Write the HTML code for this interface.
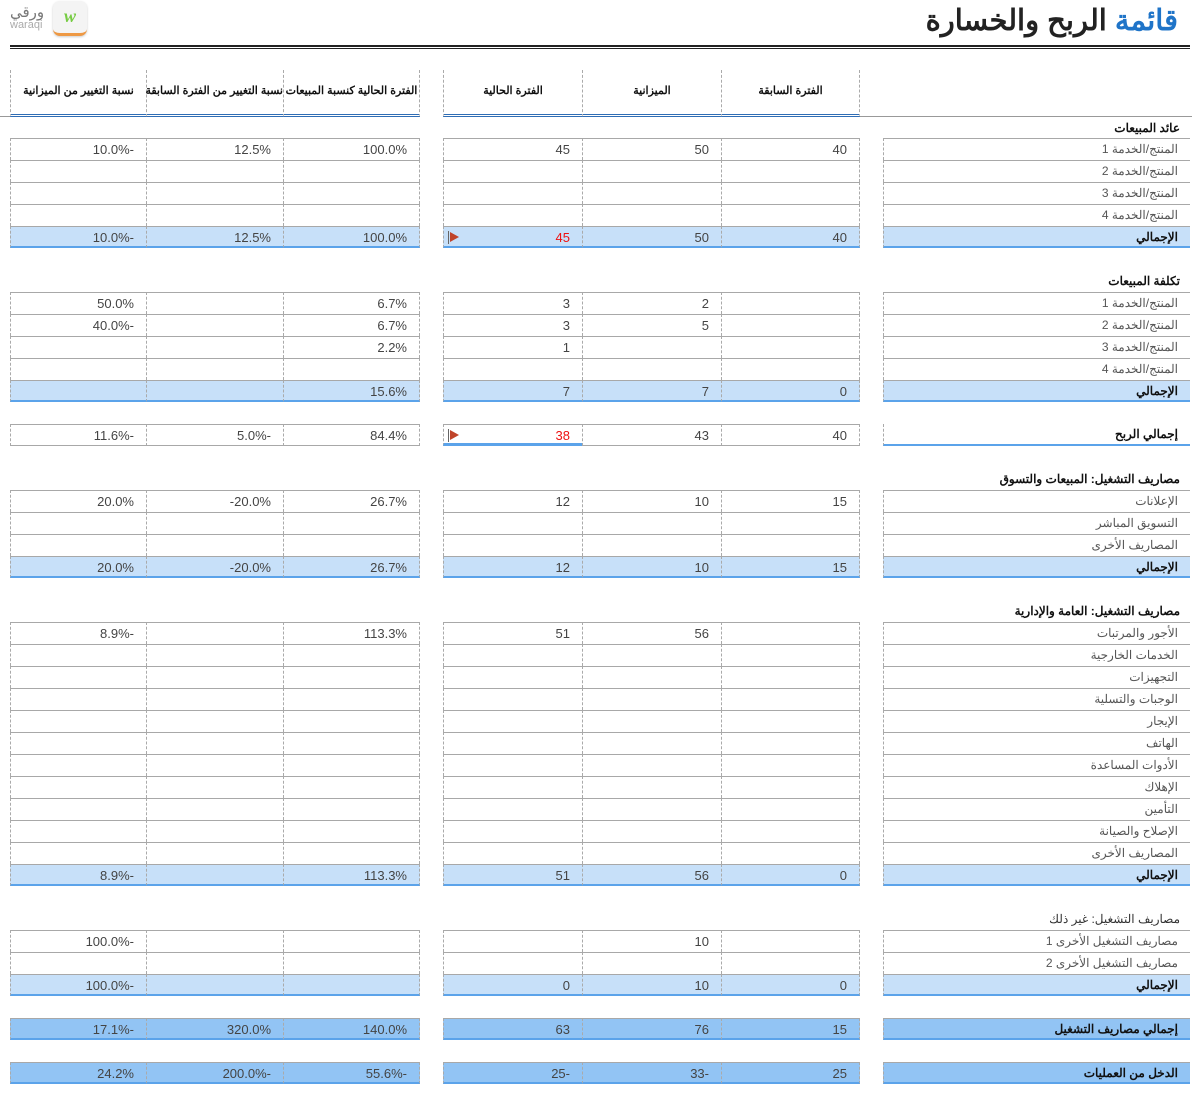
<!DOCTYPE html>
<html><head><meta charset="utf-8"><style>
*{margin:0;padding:0;box-sizing:border-box}
body{width:1192px;height:1096px;background:#fff;position:relative;overflow:hidden;font-family:"Liberation Sans","Noto Sans CJK SC",sans-serif}
.r{position:absolute;left:0;width:1192px;height:22px}
.r>div{position:absolute;top:0;height:22px;border-top:1px solid #a8a8a8;line-height:21px;font-size:13px;color:#444;text-align:right;padding-right:12px;direction:ltr;white-space:nowrap}
i{font-style:normal;display:inline-block}
.a{left:10px;width:136px;border-left:1px dashed #aaa}
.b{left:146px;width:137px;border-left:1px dashed #aaa}
.c{left:283px;width:137px;border-left:1px dashed #aaa;border-right:1px dashed #aaa}
.d{left:443px;width:139px;border-left:1px dashed #aaa}
.e{left:582px;width:139px;border-left:1px dashed #aaa}
.f{left:721px;width:139px;border-left:1px dashed #aaa;border-right:1px dashed #aaa}
.r>div.g{left:883px;width:307px;border-left:1px dashed #aaa;direction:rtl;text-align:right;padding-right:12px;font-size:12px;color:#555}
.last>div{border-bottom:1px solid #a8a8a8}
.t>div{background:#c7e0f9;border-bottom:2px solid #5ba3ea}
.t>div.g,.gg>div.g{font-weight:bold;color:#111}
.gg>div{background:#92c4f4;border-bottom:2px solid #5ba3ea}
.h{position:absolute;right:12px;font-size:12px;font-weight:bold;color:#111;direction:rtl}
.hd{position:absolute;top:70px;height:47px;border-bottom:3px double #2f6db5;font-size:11px;font-weight:bold;color:#111;text-align:center;line-height:42px;direction:rtl;white-space:nowrap}
.red{color:#e11!important}
.flag{position:absolute;left:6px;top:5px;width:0;height:0;border-left:9px solid #c0442a;border-top:5px solid transparent;border-bottom:5px solid transparent}
.flag:before{content:"";position:absolute;left:-11px;top:-6px;width:1px;height:13px;background:#666}
</style></head><body>
<div style="position:absolute;left:10px;top:3px;font-size:15px;color:#777;direction:rtl">ورقي</div>
<div style="position:absolute;left:10px;top:19px;font-size:11px;color:#aaa">waraqi</div>
<div style="position:absolute;left:53px;top:1px;width:34px;height:35px;border-radius:7px;background:#f4f4f4;border-bottom:3px solid #e94;box-shadow:0 1px 2px #ccc;text-align:center;font:italic bold 18px 'Liberation Serif',serif;color:#7c4;line-height:30px">w</div>
<div style="position:absolute;right:14px;top:3px;font-size:29px;font-weight:bold;direction:rtl;color:#222"><span style="color:#1f74c8">قائمة</span> الربح والخسارة</div>
<div style="position:absolute;left:10px;top:45px;width:1180px;height:4px;border-top:2px solid #222;border-bottom:1px solid #222"></div>

<div class="hd" style="left:10px;width:136px;border-left:1px dashed #aaa">نسبة التغيير من الميزانية</div>
<div class="hd" style="left:146px;width:137px;border-left:1px dashed #aaa">نسبة التغيير من الفترة السابقة</div>
<div class="hd" style="left:283px;width:137px;border-left:1px dashed #aaa;border-right:1px dashed #aaa">الفترة الحالية كنسبة المبيعات</div>
<div class="hd" style="left:443px;width:139px;border-left:1px dashed #aaa">الفترة الحالية</div>
<div class="hd" style="left:582px;width:139px;border-left:1px dashed #aaa">الميزانية</div>
<div class="hd" style="left:721px;width:139px;border-left:1px dashed #aaa;border-right:1px dashed #aaa">الفترة السابقة</div>
<div style="position:absolute;left:0;top:116px;width:10px;border-top:1px solid #999"></div>
<div style="position:absolute;left:860px;top:116px;width:332px;border-top:1px solid #999"></div>

<div class="h" style="top:121px">عائد المبيعات</div>
<div class="r" style="top:138px"><div class="a"><i>10.0%</i><i>-</i></div><div class="b">12.5%</div><div class="c">100.0%</div><div class="d">45</div><div class="e">50</div><div class="f">40</div><div class="g">المنتج/الخدمة 1</div></div>
<div class="r" style="top:160px"><div class="a"></div><div class="b"></div><div class="c"></div><div class="d"></div><div class="e"></div><div class="f"></div><div class="g">المنتج/الخدمة 2</div></div>
<div class="r" style="top:182px"><div class="a"></div><div class="b"></div><div class="c"></div><div class="d"></div><div class="e"></div><div class="f"></div><div class="g">المنتج/الخدمة 3</div></div>
<div class="r" style="top:204px"><div class="a"></div><div class="b"></div><div class="c"></div><div class="d"></div><div class="e"></div><div class="f"></div><div class="g">المنتج/الخدمة 4</div></div>
<div class="r t" style="top:226px;height:23px"><div class="a"><i>10.0%</i><i>-</i></div><div class="b">12.5%</div><div class="c">100.0%</div><div class="d red"><span class="flag"></span>45</div><div class="e">50</div><div class="f">40</div><div class="g">الإجمالي</div></div>

<div class="h" style="top:274px">تكلفة المبيعات</div>
<div class="r" style="top:292px"><div class="a">50.0%</div><div class="b"></div><div class="c">6.7%</div><div class="d">3</div><div class="e">2</div><div class="f"></div><div class="g">المنتج/الخدمة 1</div></div>
<div class="r" style="top:314px"><div class="a"><i>40.0%</i><i>-</i></div><div class="b"></div><div class="c">6.7%</div><div class="d">3</div><div class="e">5</div><div class="f"></div><div class="g">المنتج/الخدمة 2</div></div>
<div class="r" style="top:336px"><div class="a"></div><div class="b"></div><div class="c">2.2%</div><div class="d">1</div><div class="e"></div><div class="f"></div><div class="g">المنتج/الخدمة 3</div></div>
<div class="r" style="top:358px"><div class="a"></div><div class="b"></div><div class="c"></div><div class="d"></div><div class="e"></div><div class="f"></div><div class="g">المنتج/الخدمة 4</div></div>
<div class="r t" style="top:380px;height:23px"><div class="a"></div><div class="b"></div><div class="c">15.6%</div><div class="d">7</div><div class="e">7</div><div class="f">0</div><div class="g">الإجمالي</div></div>

<div class="r last" style="top:424px;height:23px"><div class="a"><i>11.6%</i><i>-</i></div><div class="b"><i>5.0%</i><i>-</i></div><div class="c">84.4%</div><div class="d red" style="border-bottom:3px solid #5ba3ea"><span class="flag"></span>38</div><div class="e">43</div><div class="f">40</div><div class="g" style="border-top:none;border-bottom:2px solid #5ba3ea;font-weight:bold;color:#111">إجمالي الربح</div></div>

<div class="h" style="top:472px">مصاريف التشغيل: المبيعات والتسوق</div>
<div class="r" style="top:490px"><div class="a">20.0%</div><div class="b"><i>-</i><i>20.0%</i></div><div class="c">26.7%</div><div class="d">12</div><div class="e">10</div><div class="f">15</div><div class="g">الإعلانات</div></div>
<div class="r" style="top:512px"><div class="a"></div><div class="b"></div><div class="c"></div><div class="d"></div><div class="e"></div><div class="f"></div><div class="g">التسويق المباشر</div></div>
<div class="r" style="top:534px"><div class="a"></div><div class="b"></div><div class="c"></div><div class="d"></div><div class="e"></div><div class="f"></div><div class="g">المصاريف الأخرى</div></div>
<div class="r t" style="top:556px;height:23px"><div class="a">20.0%</div><div class="b"><i>-</i><i>20.0%</i></div><div class="c">26.7%</div><div class="d">12</div><div class="e">10</div><div class="f">15</div><div class="g">الإجمالي</div></div>

<div class="h" style="top:604px">مصاريف التشغيل: العامة والإدارية</div>
<div class="r" style="top:622px"><div class="a"><i>8.9%</i><i>-</i></div><div class="b"></div><div class="c">113.3%</div><div class="d">51</div><div class="e">56</div><div class="f"></div><div class="g">الأجور والمرتبات</div></div>
<div class="r" style="top:644px"><div class="a"></div><div class="b"></div><div class="c"></div><div class="d"></div><div class="e"></div><div class="f"></div><div class="g">الخدمات الخارجية</div></div>
<div class="r" style="top:666px"><div class="a"></div><div class="b"></div><div class="c"></div><div class="d"></div><div class="e"></div><div class="f"></div><div class="g">التجهيزات</div></div>
<div class="r" style="top:688px"><div class="a"></div><div class="b"></div><div class="c"></div><div class="d"></div><div class="e"></div><div class="f"></div><div class="g">الوجبات والتسلية</div></div>
<div class="r" style="top:710px"><div class="a"></div><div class="b"></div><div class="c"></div><div class="d"></div><div class="e"></div><div class="f"></div><div class="g">الإيجار</div></div>
<div class="r" style="top:732px"><div class="a"></div><div class="b"></div><div class="c"></div><div class="d"></div><div class="e"></div><div class="f"></div><div class="g">الهاتف</div></div>
<div class="r" style="top:754px"><div class="a"></div><div class="b"></div><div class="c"></div><div class="d"></div><div class="e"></div><div class="f"></div><div class="g">الأدوات المساعدة</div></div>
<div class="r" style="top:776px"><div class="a"></div><div class="b"></div><div class="c"></div><div class="d"></div><div class="e"></div><div class="f"></div><div class="g">الإهلاك</div></div>
<div class="r" style="top:798px"><div class="a"></div><div class="b"></div><div class="c"></div><div class="d"></div><div class="e"></div><div class="f"></div><div class="g">التأمين</div></div>
<div class="r" style="top:820px"><div class="a"></div><div class="b"></div><div class="c"></div><div class="d"></div><div class="e"></div><div class="f"></div><div class="g">الإصلاح والصيانة</div></div>
<div class="r" style="top:842px"><div class="a"></div><div class="b"></div><div class="c"></div><div class="d"></div><div class="e"></div><div class="f"></div><div class="g">المصاريف الأخرى</div></div>
<div class="r t" style="top:864px;height:23px"><div class="a"><i>8.9%</i><i>-</i></div><div class="b"></div><div class="c">113.3%</div><div class="d">51</div><div class="e">56</div><div class="f">0</div><div class="g">الإجمالي</div></div>

<div class="h" style="top:912px;font-weight:normal;color:#333">مصاريف التشغيل: غير ذلك</div>
<div class="r" style="top:930px"><div class="a"><i>100.0%</i><i>-</i></div><div class="b"></div><div class="c"></div><div class="d"></div><div class="e">10</div><div class="f"></div><div class="g">مصاريف التشغيل الأخرى 1</div></div>
<div class="r" style="top:952px"><div class="a"></div><div class="b"></div><div class="c"></div><div class="d"></div><div class="e"></div><div class="f"></div><div class="g">مصاريف التشغيل الأخرى 2</div></div>
<div class="r t" style="top:974px;height:23px"><div class="a"><i>100.0%</i><i>-</i></div><div class="b"></div><div class="c"></div><div class="d">0</div><div class="e">10</div><div class="f">0</div><div class="g">الإجمالي</div></div>

<div class="r gg" style="top:1018px;height:23px"><div class="a"><i>17.1%</i><i>-</i></div><div class="b">320.0%</div><div class="c">140.0%</div><div class="d">63</div><div class="e">76</div><div class="f">15</div><div class="g">إجمالي مصاريف التشغيل</div></div>
<div class="r gg" style="top:1062px;height:23px"><div class="a">24.2%</div><div class="b"><i>200.0%</i><i>-</i></div><div class="c"><i>55.6%</i><i>-</i></div><div class="d"><i>25</i><i>-</i></div><div class="e"><i>33</i><i>-</i></div><div class="f">25</div><div class="g">الدخل من العمليات</div></div>
</body></html>
